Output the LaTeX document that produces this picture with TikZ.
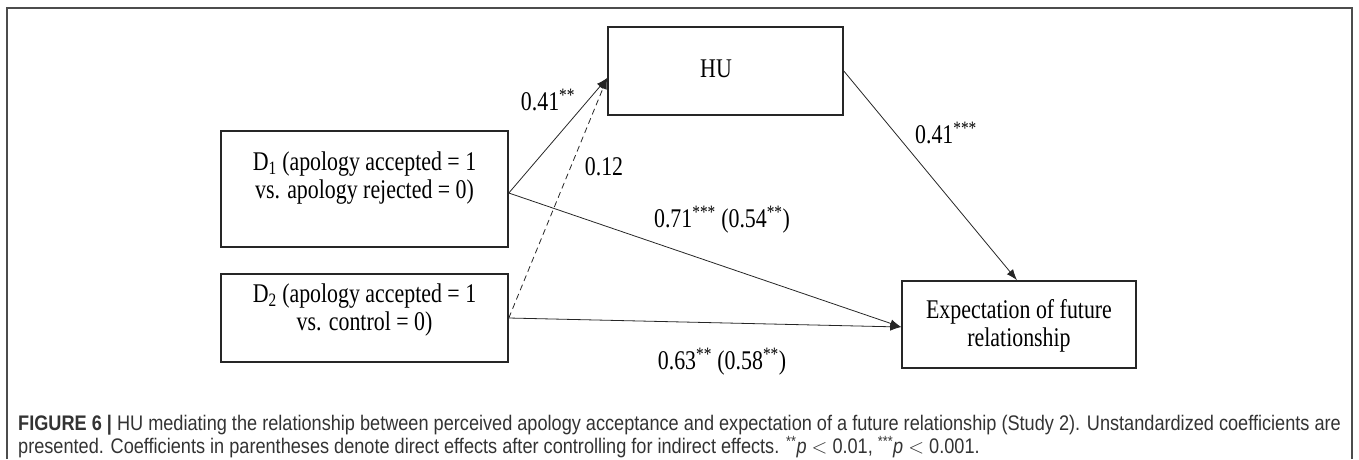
\documentclass[tikz,border=0pt]{standalone}
\usepackage{fontspec}
\setmainfont[FakeStretch=0.81]{Liberation Serif}
\newfontfamily\capfont[FakeStretch=0.86]{Liberation Sans}
\usetikzlibrary{arrows.meta,calc}
\begin{document}
\begin{tikzpicture}[x=1pt,y=-1pt,
  varbox/.style={draw=black!85, line width=1.6pt, inner sep=0pt},
  vtext/.style={font=\fontsize{27}{28}\selectfont, align=center, inner sep=0pt},
  coef/.style={font=\fontsize{27}{28}\selectfont, inner sep=0pt},
  path/.style={draw=black!85, line width=0.8pt, -{Latex[length=11pt,width=8pt]}},
  capline/.style={font=\capfont\fontsize{21.1}{22}\selectfont, text=black!80, anchor=west, inner sep=0pt}]
\useasboundingbox (0,0) rectangle (1359,459);
% outer frame
\draw[black!70, line width=1.3pt] (7,459) -- (7,8) -- (1352,8) -- (1352,459);
% boxes
\node[varbox, minimum width=235pt, minimum height=88pt] (hu) at (725.5,71) {};
\node[varbox, minimum width=287pt, minimum height=116pt] (d1) at (364.5,189) {};
\node[varbox, minimum width=287pt, minimum height=88pt] (d2) at (364.5,318) {};
\node[varbox, minimum width=234pt, minimum height=87pt] (ex) at (1019,324.5) {};
% box texts
\node[vtext] (hut) at (716,69) {HU};
\node[vtext] (d1t) at (364.5,178) {D\textsubscript{1} (apology accepted = 1\\vs. apology rejected = 0)};
\node[vtext] (d2t) at (364.5,310) {D\textsubscript{2} (apology accepted = 1\\vs. control = 0)};
\node[vtext] (ext) at (1019,326) {Expectation of future\\relationship};
% connectors
\coordinate (huin) at ($(hu.west)+(0,7)$);
\coordinate (exin) at ($(ex.west)+(0,2.5)$);
\coordinate (d1out) at ($(d1.east)+(0,4)$);
\draw[path] (d1out) -- (huin);
\draw[path, dashed, dash pattern=on 6pt off 4pt] (d2.east) -- (huin);
\draw[path] (d1out) -- (exin);
\draw[path] (d2.east) -- (exin);
\draw[path] (hu.east) -- ($(ex.north)+(-2,0)$);
% coefficients
\node[coef] (c1) at (548,100) {0.41\textsuperscript{**}};
\node[coef] (c2) at (604,167) {0.12};
\node[coef] (c3) at (722,220) {0.71\textsuperscript{***} (0.54\textsuperscript{**})};
\node[coef] (c4) at (946,133) {0.41\textsuperscript{***}};
\node[coef] (c5) at (722,362) {0.63\textsuperscript{**} (0.58\textsuperscript{**})};
% caption
\node[capline] (cap1) at (18,425) {\textbf{FIGURE 6 |} HU mediating the relationship between perceived apology acceptance and expectation of a future relationship (Study 2). Unstandardized coefficients are};
\node[capline] (cap2) at (18,447) {presented. Coefficients in parentheses denote direct effects after controlling for indirect effects. \textsuperscript{**}\textit{p} $<$ 0.01, \textsuperscript{***}\textit{p} $<$ 0.001.};
\end{tikzpicture}
\end{document}
